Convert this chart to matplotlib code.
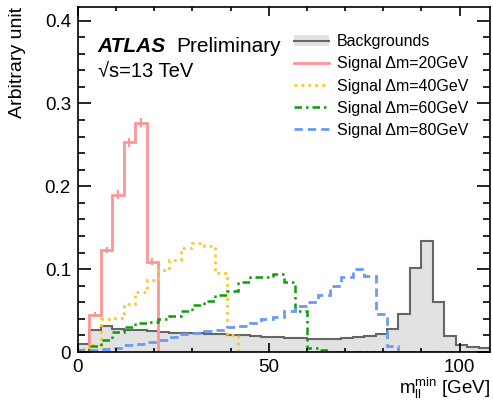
import numpy as np
import matplotlib
matplotlib.use("Agg")
import matplotlib.pyplot as plt
from matplotlib.ticker import MultipleLocator, FuncFormatter
from matplotlib.patches import Patch
from matplotlib.lines import Line2D

plt.rcParams["font.family"] = ["Liberation Sans", "DejaVu Sans"]
plt.rcParams["mathtext.fontset"] = "custom"
plt.rcParams["mathtext.rm"] = "Liberation Sans"
plt.rcParams["mathtext.it"] = "Liberation Sans:italic"

# 3 GeV bins from 0 to 108 GeV
edges = np.arange(0, 109, 3)

backgrounds = [0.010, 0.027, 0.031, 0.028, 0.027, 0.0265, 0.025, 0.024, 0.0235,
               0.0233, 0.0233, 0.0215, 0.0213, 0.021, 0.020, 0.0197, 0.0185, 0.0177,
               0.0175, 0.0165, 0.016, 0.016, 0.0163, 0.017, 0.0178, 0.0193, 0.0213,
               0.0274, 0.0455, 0.102, 0.1345, 0.060, 0.0197, 0.0085, 0.0056, 0.0045]

sig20 = [0.0, 0.045, 0.123, 0.190, 0.253, 0.277, 0.109] + [0.0] * 29
sig20_err = [0.0, 0.003, 0.004, 0.005, 0.005, 0.005, 0.004] + [0.0] * 29

sig40 = [0.004, 0.008, 0.040, 0.041, 0.058, 0.072, 0.087, 0.099, 0.111, 0.125,
         0.132, 0.128, 0.095, 0.020] + [0.0] * 22

sig60 = [0.003, 0.007, 0.015, 0.024, 0.030, 0.035, 0.036, 0.040, 0.043, 0.049,
         0.057, 0.062, 0.069, 0.074, 0.084, 0.090, 0.091, 0.094, 0.085, 0.050,
         0.005, 0.002] + [0.0] * 14

sig80 = [0.002, 0.003, 0.004, 0.005, 0.008, 0.010, 0.012, 0.014, 0.0185, 0.0215,
         0.023, 0.025, 0.027, 0.030, 0.031, 0.035, 0.0395, 0.042, 0.050, 0.056,
         0.061, 0.069, 0.080, 0.090, 0.100, 0.092, 0.046, 0.007] + [0.0] * 8

c_bkg_fill = "#e2e2e2"
c_bkg_line = "#666666"
c20 = "#ff9494"
c40 = "#ffc726"
c60 = "#0f9a0f"
c80 = "#6a9bf4"

fig = plt.figure(figsize=(4.93, 4.07), dpi=100)
ax = fig.add_axes([0.158, 0.135, 0.836, 0.847])

ax.stairs(backgrounds, edges, fill=True, color=c_bkg_fill)
ax.stairs(backgrounds, edges, color=c_bkg_line, lw=1.5)

ax.stairs(sig20, edges, color=c20, lw=2)
centers = 0.5 * (edges[:-1] + edges[1:])
mask = np.array(sig20) > 0
ax.errorbar(centers[mask], np.array(sig20)[mask], yerr=np.array(sig20_err)[mask],
            fmt="none", ecolor=c20, elinewidth=1.5)
ax.stairs(sig40, edges, color=c40, lw=2, linestyle=(0, (1, 1.5)))
ax.stairs(sig60, edges, color=c60, lw=1.8, linestyle=(0, (3, 1.6, 1, 1.6)))
ax.stairs(sig80, edges, color=c80, lw=2, linestyle=(0, (3, 1.8)))

ax.set_xlim(0, 108)
ax.set_ylim(0, 0.416)

ax.xaxis.set_major_locator(MultipleLocator(50))
ax.xaxis.set_minor_locator(MultipleLocator(10))
ax.yaxis.set_major_locator(MultipleLocator(0.1))
ax.yaxis.set_minor_locator(MultipleLocator(0.02))
ax.yaxis.set_major_formatter(FuncFormatter(lambda v, pos: f"{v:g}"))

ax.tick_params(axis="both", which="both", direction="in", top=True, right=True,
               labelsize=13.5, width=1.2)
ax.tick_params(axis="x", which="major", length=6.5, pad=5)
ax.tick_params(axis="x", which="minor", length=3.2)
ax.tick_params(axis="y", which="major", length=9.4, pad=5)
ax.tick_params(axis="y", which="minor", length=4.7)
for s in ax.spines.values():
    s.set_linewidth(1.2)

ax.set_ylabel("Arbitrary unit", fontsize=14, loc="top")
ax.yaxis.set_label_coords(-0.125, 1.0)
ax.set_xlabel(r"$\mathregular{m_{ll}^{min}}$ [GeV]", fontsize=13.5, loc="right")
ax.xaxis.set_label_coords(1.0, -0.068)

ax.text(0.048, 0.871, "ATLAS", transform=ax.transAxes, fontsize=15,
        fontweight="bold", fontstyle="italic", va="baseline")
ax.text(0.238, 0.871, "Preliminary", transform=ax.transAxes, fontsize=15,
        va="baseline")
ax.text(0.048, 0.798, "\u221As=13 TeV", transform=ax.transAxes, fontsize=14.5,
        va="baseline")

handles = [
    (Patch(facecolor=c_bkg_fill, edgecolor="none"), Line2D([], [], color=c_bkg_line, lw=1.5)),
    Line2D([], [], color=c20, lw=2),
    Line2D([], [], color=c40, lw=2, linestyle=(0, (1, 1.5))),
    Line2D([], [], color=c60, lw=1.8, linestyle=(0, (3, 1.6, 1, 1.6))),
    Line2D([], [], color=c80, lw=2, linestyle=(0, (3, 1.8))),
]
labels = ["Backgrounds", "Signal \u0394m=20GeV", "Signal \u0394m=40GeV",
          "Signal \u0394m=60GeV", "Signal \u0394m=80GeV"]
ax.legend(handles, labels, loc="upper left", bbox_to_anchor=(0.525, 0.922),
          frameon=False, fontsize=11.5, handlelength=2.2, handletextpad=0.45,
          labelspacing=0.45, borderpad=0, borderaxespad=0)

fig.savefig("out.png", dpi=100)
